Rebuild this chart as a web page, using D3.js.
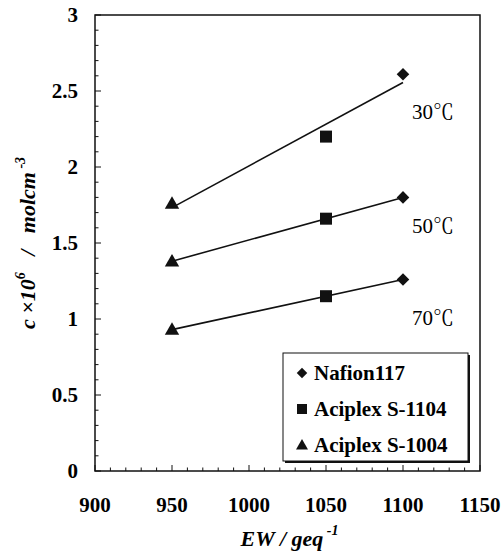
<!DOCTYPE html>
<html><head><meta charset="utf-8"><script src="https://cdn.jsdelivr.net/npm/d3@7"></script></head>
<body style="margin:0">
<svg id="chart" width="504" height="555"></svg>
<script>
// membranes and their equivalent weights
const membranes = ["Nafion117", "Aciplex S-1104", "Aciplex S-1004"];
const ew = [1100, 1050, 950];
const shapes = ["diamond", "square", "triangle"];

// concentration c x 10^6 / mol cm^-3, one array per temperature (same order as membranes)
const temps = ["30", "50", "70"];
const c30 = [2.61, 2.20, 1.76];
const c50 = [1.80, 1.66, 1.38];
const c70 = [1.26, 1.15, 0.93];
const series = [c30, c50, c70];

const xTicks = [900, 950, 1000, 1050, 1100, 1150];
const yTicks = [0, 0.5, 1, 1.5, 2, 2.5, 3];

const width = 504, height = 555;
const margin = { top: 15, right: 24, bottom: 84, left: 95 };
const labelAt = [2.37, 1.62, 1.01];
const ink = "#111";

const svg = d3.select("#chart").attr("font-family", "Liberation Serif");

const x = d3.scaleLinear().domain([900, 1150]).range([margin.left, width - margin.right]);
const y = d3.scaleLinear().domain([0, 3]).range([height - margin.bottom, margin.top]);

function label(sel, size, weight, italic) {
    sel.style("font-family", '"Liberation Serif"')
        .style("font-size", size + "px")
        .style("font-weight", weight ? "bold" : "normal");
    if (italic) sel.style("font-style", "italic");
    return sel;
}

// frame
svg.append("rect")
    .attr("x", x(900)).attr("y", y(3))
    .attr("width", x(1150) - x(900)).attr("height", y(0) - y(3))
    .attr("fill", "none").attr("stroke", ink).attr("stroke-width", 1.5);

// minor + major ticks, pointing inward
const xMinor = d3.range(900, 1151, 10);
const yMinor = d3.range(0, 30.5, 1).map(d => d / 10);

svg.append("g").selectAll("line").data(xMinor).join("line")
    .attr("x1", d => x(d)).attr("x2", d => x(d))
    .attr("y1", y(0)).attr("y2", d => y(0) - (d % 50 === 0 ? 6 : 3.5))
    .attr("stroke", ink).attr("stroke-width", 1);

svg.append("g").selectAll("line").data(yMinor).join("line")
    .attr("y1", d => y(d)).attr("y2", d => y(d))
    .attr("x1", x(900)).attr("x2", d => x(900) + (Math.round(d * 10) % 5 === 0 ? 6 : 3.5))
    .attr("stroke", ink).attr("stroke-width", 1);

// tick labels
xTicks.forEach(d => {
    label(svg.append("text"), 21, true)
        .attr("x", x(d)).attr("y", y(0) + 41)
        .attr("text-anchor", "middle")
        .text(d);
});
yTicks.forEach(d => {
    label(svg.append("text"), 21, true)
        .attr("x", x(900) - 17).attr("y", y(d) + 7)
        .attr("text-anchor", "end")
        .text(d);
});

// axis titles
const xt = label(svg.append("text"), 22, true, true)
    .attr("x", (x(900) + x(1150)) / 2 + 2).attr("y", 546)
    .attr("text-anchor", "middle");
xt.append("tspan").text("EW / geq");
xt.append("tspan").attr("dy", -11).style("font-size", "14px").text("\u00a0-1");

const yt = label(svg.append("text"), 22, true, true)
    .attr("transform", `translate(35, ${(y(0) + y(3)) / 2}) rotate(-90)`)
    .attr("text-anchor", "middle");
yt.append("tspan").text("c ×10");
yt.append("tspan").attr("dy", -10).style("font-size", "14px").text("6");
yt.append("tspan").attr("dy", 10).text("\u00a0\u00a0 / \u00a0\u00a0molcm");
yt.append("tspan").attr("dy", -10).style("font-size", "14px").text("\u00a0-3");

// markers
function marker(g, shape, s) {
    if (shape === "diamond") {
        g.append("path").attr("d", d3.symbol(d3.symbolSquare, s * s * 0.55)())
            .attr("transform", "rotate(45)");
    } else if (shape === "square") {
        g.append("path").attr("d", d3.symbol(d3.symbolSquare, s * s)());
    } else {
        g.append("path").attr("d", d3.symbol(d3.symbolTriangle, s * s * 0.62)())
            .attr("transform", "translate(0,1)");
    }
}

series.forEach((vals, i) => {
    // least-squares trend line over the three membranes
    const mx = d3.mean(ew), my = d3.mean(vals);
    const slope = d3.sum(ew, (e, j) => (e - mx) * (vals[j] - my)) / d3.sum(ew, e => (e - mx) ** 2);
    const fit = e => my + slope * (e - mx);
    const x0 = d3.min(ew), x1 = d3.max(ew);
    svg.append("line")
        .attr("x1", x(x0)).attr("y1", y(fit(x0)))
        .attr("x2", x(x1)).attr("y2", y(fit(x1)))
        .attr("stroke", ink).attr("stroke-width", 1.6);

    vals.forEach((v, j) => {
        const g = svg.append("g").attr("transform", `translate(${x(ew[j])},${y(v)})`).attr("fill", ink);
        marker(g, shapes[j], 12);
    });

    const t = label(svg.append("text"), 21, false)
        .attr("x", x(1100) + 9).attr("y", y(labelAt[i]) + 8);
    t.append("tspan").text(temps[i]);
    t.append("tspan").style("font-family", '"Noto Serif CJK SC"').text("℃");
});

// legend
const lx = 283, ly = 353;
svg.append("rect").attr("x", lx + 2).attr("y", ly + 2).attr("width", 185).attr("height", 108).attr("fill", ink);
svg.append("rect").attr("x", lx).attr("y", ly).attr("width", 185).attr("height", 108)
    .attr("fill", "#fff").attr("stroke", ink).attr("stroke-width", 1);
membranes.forEach((m, j) => {
    const g = svg.append("g").attr("transform", `translate(${lx + 19},${ly + 20 + j * 36})`).attr("fill", ink);
    marker(g, shapes[j], 10);
    label(svg.append("text"), 21, true)
        .attr("x", lx + 31).attr("y", ly + 27 + j * 36)
        .text(m);
});
</script>
</body>
</html>
